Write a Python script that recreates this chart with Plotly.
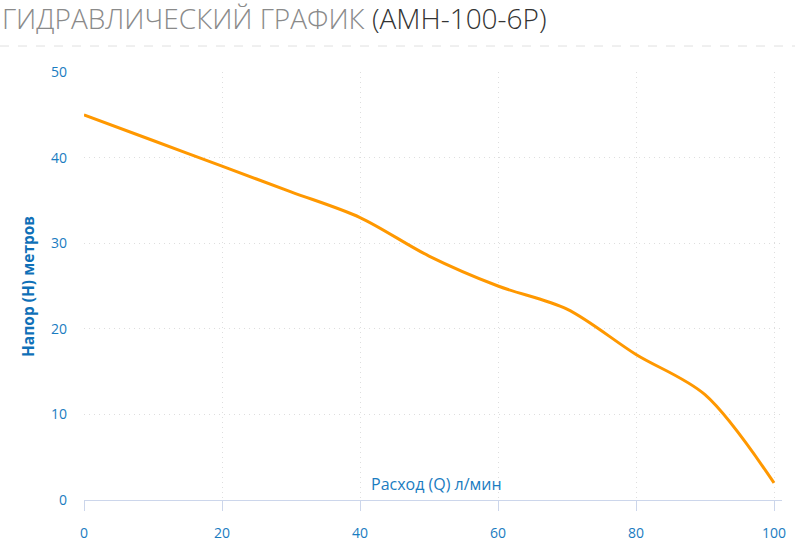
import plotly.graph_objects as go

flow = [0, 10, 20, 30, 40, 50, 60, 70, 80, 90, 100]
head = [45, 42, 39, 36, 33, 28.5, 25, 22.3, 17, 12.3, 2]
x_ticks = [0, 20, 40, 60, 80, 100]
y_ticks = [0, 10, 20, 30, 40, 50]

title_gray = "ГИДРАВЛИЧЕСКИЙ ГРАФИК "
title_dark = "(АМН-100-6Р)"
x_title = "Расход (Q) л/мин"
y_title = "Напор (H) метров"

W, H = 795, 538
ml, mr, mt, mb = 84, 13, 72, 38
pw, ph = W - ml - mr, H - mt - mb

blue = "#1a7cc1"
grid = "#dedede"

fig = go.Figure()
fig.add_trace(go.Scatter(
    x=flow, y=head, mode="lines",
    line=dict(color="#ff9800", width=3, shape="spline", smoothing=0.9),
    hoverinfo="skip", showlegend=False,
))

fig.update_layout(
    width=W, height=H,
    margin=dict(l=ml, r=mr, t=mt, b=mb, autoexpand=False),
    paper_bgcolor="white", plot_bgcolor="white",
    font=dict(family="Open Sans", color=blue, size=14),
    showlegend=False,
    xaxis=dict(
        range=[0, 101.16], tickvals=x_ticks, ticks="outside", ticklen=10,
        tickcolor="#ccd6eb", tickwidth=1, showline=True, linecolor="#ccd6eb",
        linewidth=1, showgrid=True, gridcolor=grid, griddash="1px,4px",
        gridwidth=1, zeroline=False, tickfont=dict(color=blue, size=14),
        ticklabelstandoff=10, automargin=False,
    ),
    yaxis=dict(
        range=[0, 50], tickvals=y_ticks, showline=False, showgrid=True,
        gridcolor=grid, griddash="1px,4px", gridwidth=1, zeroline=False,
        ticks="", tickfont=dict(color=blue, size=14), ticklabelstandoff=16,
        automargin=False,
    ),
    annotations=[
        dict(text=x_title, xref="paper", yref="paper", x=(436 - ml) / pw,
             y=(500 - 484) / ph, xanchor="center", yanchor="middle",
             showarrow=False, font=dict(size=16, color=blue)),
        dict(text="<b>" + y_title + "</b>", xref="paper", yref="paper",
             x=(28 - ml) / pw, y=0.5, textangle=-90, xanchor="center",
             yanchor="middle", showarrow=False, font=dict(size=15.5, color="#0f70b7")),
        dict(text='<span style="color:#8a8a8a">' + title_gray + '</span>'
                  '<span style="color:#333333">' + title_dark + '</span>',
             xref="paper", yref="paper", x=(0 - ml) / pw, y=(500 - 18) / ph,
             xanchor="left", yanchor="middle", showarrow=False,
             font=dict(size=28, family="Open Sans", weight=300)),
    ],
    shapes=[
        dict(type="line", xref="paper", yref="paper",
             x0=(0 - ml) / pw, x1=(W - ml) / pw,
             y0=(500 - 46) / ph, y1=(500 - 46) / ph,
             line=dict(color="#e0e0e0", width=1, dash="dash")),
    ],
)

fig.write_html(
    "out.html",
    config={"displayModeBar": False},
    post_script="document.body.style.margin='0';document.body.style.overflow='hidden';",
)
